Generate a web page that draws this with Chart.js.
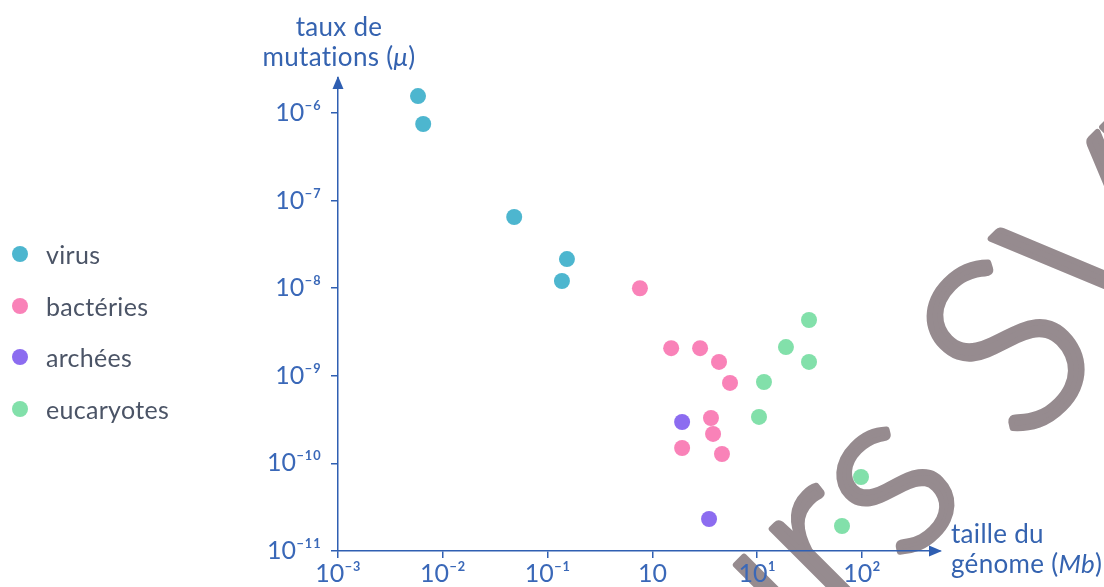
<!DOCTYPE html>
<html>
<head>
<meta charset="utf-8">
<script src="https://cdn.jsdelivr.net/npm/chart.js@4/dist/chart.umd.min.js"></script>
<style>
  html, body { margin:0; padding:0; background:#fff; }
  #wrap { position:relative; width:1104px; height:587px; overflow:hidden; font-family:Lato, "Open Sans", sans-serif; }
  canvas { position:absolute; left:0; top:0; }
  .ttl { position:absolute; color:#3563b0; font-size:26px; line-height:30px; white-space:nowrap; letter-spacing:0.3px; }
  #legend { position:absolute; left:12px; top:239px; }
  .lg { height:51.5px; display:flex; align-items:flex-start; color:#4b5466; font-size:25px; line-height:30px; letter-spacing:0.3px; }
  .dot { width:16px; height:16px; border-radius:50%; margin-top:7px; margin-right:18px; }
</style>
</head>
<body>
<div id="wrap">
  <canvas id="c" width="1104" height="587"></canvas>
  <div class="ttl" id="ytitle" style="left:220px; top:11px; width:238px; text-align:center;">taux de<br>mutations (<i>μ</i>)</div>
  <div class="ttl" id="xtitle" style="left:951px; top:518px;">taille du<br>génome (<i>Mb</i>)</div>
  <div id="legend"></div>
</div>
<script>
// ---- data (genome size in Mb, mutation rate per base) ----
const seriesNames = ["virus", "bactéries", "archées", "eucaryotes"];
const seriesColors = ["#4db6cf", "#f982b8", "#8c6cf0", "#82e0aa"];

const virusX = [0.0058, 0.0065, 0.048, 0.153, 0.137];
const virusY = [1.56e-6, 7.5e-7, 6.5e-8, 2.15e-8, 1.21e-8];

const bactX = [0.76, 1.51, 2.85, 4.32, 5.5, 3.62, 3.79, 1.92, 4.61];
const bactY = [1.0e-8, 2.07e-9, 2.07e-9, 1.44e-9, 8.3e-10, 3.3e-10, 2.17e-10, 1.5e-10, 1.28e-10];

const archX = [1.92, 3.47];
const archY = [2.97e-10, 2.32e-11];

const eukX = [31.2, 18.8, 31.2, 11.6, 10.4, 97.8, 64.4];
const eukY = [4.34e-9, 2.13e-9, 1.44e-9, 8.5e-10, 3.39e-10, 7.0e-11, 1.93e-11];

const xTickValues = [1e-3, 1e-2, 1e-1, 1, 10, 100];
const xTickLabels = ["10⁻³", "10⁻²", "10⁻¹", "10", "10¹", "10²"];
const yTickValues = [1e-11, 1e-10, 1e-9, 1e-8, 1e-7, 1e-6];
const yTickLabels = ["10⁻¹¹", "10⁻¹⁰", "10⁻⁹", "10⁻⁸", "10⁻⁷", "10⁻⁶"];

const watermarkText = "Cours SVT";
// -----------------------------------------------------------

const axisColor = "#2f5fb2";
const labelColor = "#3a68b8";
const fontFam = "Lato, 'Open Sans', sans-serif";

function pts(xs, ys) { return xs.map((x, i) => ({ x: x, y: ys[i] })); }
const allX = [virusX, bactX, archX, eukX];
const allY = [virusY, bactY, archY, eukY];

const datasets = seriesNames.map((n, i) => ({
  label: n,
  data: pts(allX[i], allY[i]),
  backgroundColor: seriesColors[i],
  borderWidth: 0,
  pointRadius: 8,
  pointHoverRadius: 8
}));

// legend (HTML)
const lg = document.getElementById("legend");
seriesNames.forEach((n, i) => {
  const d = document.createElement("div");
  d.className = "lg";
  d.innerHTML = '<span class="dot" style="background:' + seriesColors[i] + '"></span><span>' + n + '</span>';
  lg.appendChild(d);
});

const watermark = {
  id: "watermark",
  beforeDraw(chart) {
    const ctx = chart.ctx;
    const fs = 240;
    ctx.save();
    ctx.font = "300 " + fs + "px Lato, 'Open Sans', sans-serif";
    ctx.fillStyle = "#968b8f";
    ctx.strokeStyle = "#968b8f";
    ctx.lineWidth = 6;
    ctx.lineJoin = "round";
    ctx.textBaseline = "alphabetic";
    const pre = ctx.measureText("Cour").width;
    const sW = ctx.measureText("s").width;
    ctx.translate(895, 488);
    ctx.rotate(-Math.PI / 4);
    const x0 = -(pre + sW / 2), y0 = 0.255 * fs;
    ctx.fillText(watermarkText, x0, y0);
    ctx.strokeText(watermarkText, x0, y0);
    ctx.restore();
  }
};

const arrows = {
  id: "arrows",
  afterDraw(chart) {
    const a = chart.chartArea, ctx = chart.ctx;
    ctx.save();
    ctx.fillStyle = axisColor;
    ctx.beginPath();
    ctx.moveTo(a.left, a.top - 2);
    ctx.lineTo(a.left - 5.5, a.top + 11);
    ctx.lineTo(a.left + 5.5, a.top + 11);
    ctx.closePath();
    ctx.fill();
    ctx.beginPath();
    ctx.moveTo(a.right + 2, a.bottom);
    ctx.lineTo(a.right - 11, a.bottom - 5.5);
    ctx.lineTo(a.right - 11, a.bottom + 5.5);
    ctx.closePath();
    ctx.fill();
    ctx.restore();
  }
};

new Chart(document.getElementById("c"), {
  type: "scatter",
  data: { datasets: datasets },
  options: {
    responsive: false,
    animation: false,
    devicePixelRatio: 1,
    layout: { padding: { left: 258, right: 164, top: 78, bottom: 0 } },
    plugins: { legend: { display: false }, tooltip: { enabled: false } },
    scales: {
      x: {
        type: "logarithmic",
        min: 1e-3,
        max: Math.pow(10, 2.744),
        afterBuildTicks: s => { s.ticks = xTickValues.map(v => ({ value: v })); },
        afterFit: s => { s.height = 36; },
        grid: { display: true, drawOnChartArea: false, drawTicks: true, tickLength: 7, color: axisColor, lineWidth: 1.5 },
        border: { display: true, color: axisColor, width: 1.5 },
        ticks: {
          autoSkip: false, maxRotation: 0, minRotation: 0, padding: 1,
          color: labelColor, font: { family: fontFam, size: 25 },
          callback: (v, i) => xTickLabels[i]
        }
      },
      y: {
        type: "logarithmic",
        min: 1e-11,
        max: Math.pow(10, -5.6),
        afterBuildTicks: s => { s.ticks = yTickValues.map(v => ({ value: v })); },
        afterFit: s => { s.width = 80; },
        grid: { display: true, drawOnChartArea: false, drawTicks: true, tickLength: 7, color: axisColor, lineWidth: 1.5 },
        border: { display: true, color: axisColor, width: 1.5 },
        ticks: {
          autoSkip: false, padding: 10,
          color: labelColor, font: { family: fontFam, size: 25 },
          callback: (v, i) => yTickLabels[i]
        }
      }
    }
  },
  plugins: [watermark, arrows]
});
</script>
</body>
</html>
